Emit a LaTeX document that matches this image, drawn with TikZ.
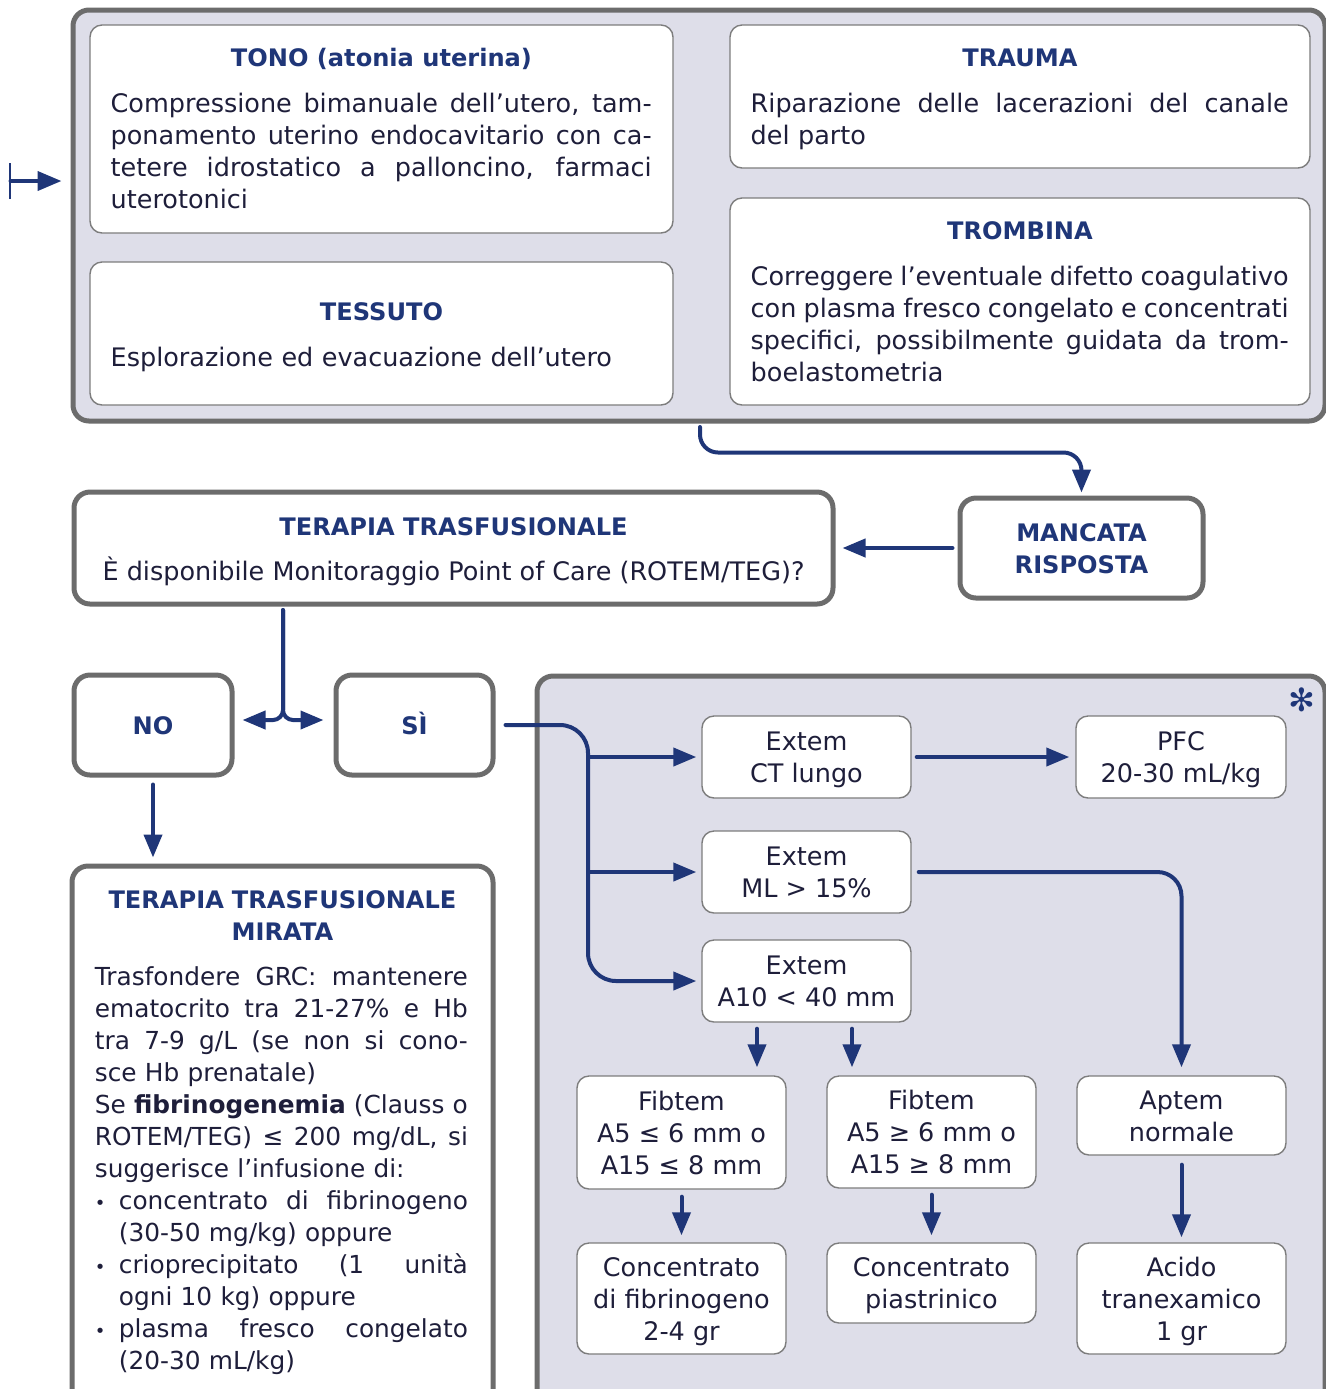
\documentclass[tikz,border=0pt]{standalone}
\usepackage{fontspec}
\setmainfont{DejaVu Sans}
\usetikzlibrary{arrows.meta,positioning,calc}

\definecolor{bluscuro}{RGB}{31,54,120}
\definecolor{testo}{RGB}{30,30,58}
\definecolor{cornice}{RGB}{108,108,108}
\definecolor{lavanda}{RGB}{222,222,233}
\definecolor{bordino}{RGB}{125,125,125}

\newcommand{\corpo}{\fontsize{12.75}{16}\selectfont}
\newcommand{\corpino}{\fontsize{12.4}{16}\selectfont}
\newcommand{\testata}{\fontsize{12.05}{16}\selectfont\bfseries}
% riga giustificata, riga con punto elenco, riga rientrata
\newlength{\riga}
\newcommand{\spazi}{\spaceskip=0.318em plus 0.8em minus 0.11em\relax}
\newcommand{\jline}[1]{\leavevmode\hbox to \riga{\spazi #1}\\}
\newcommand{\bline}[1]{\leavevmode\hbox to 12pt{\small\textbullet\hss}\hbox to \dimexpr\riga-12pt\relax{\spazi #1}\\}
\newcommand{\rientro}{\hspace*{12pt}}
% puntelli invisibili: prima e ultima riga dei riquadri centrati
\newcommand{\su}{\rule{0pt}{13pt}}
\newcommand{\giu}{\rule[-3.5pt]{0pt}{3.5pt}}

\begin{document}
\begin{tikzpicture}[
    x=0.5pt, y=-0.5pt,
    font=\corpo, text=testo,
    % stili globali
    panel/.style={draw=cornice, line width=2.5pt, fill=lavanda, rounded corners=8pt, inner sep=0pt},
    riquadro/.style={draw=cornice, line width=2.5pt, fill=white, rounded corners=8pt, inner sep=0pt, align=center},
    scheda/.style={draw=bordino, line width=0.7pt, fill=white, rounded corners=6pt, inner sep=0pt, align=center},
    titolo/.style={font=\testata, text=bluscuro, anchor=base, inner sep=0pt},
    corpotesto/.style={anchor=base west, inner sep=0pt},
    % frecce blu con punta triangolare
    flusso/.style={draw=bluscuro, line width=2pt, line cap=round, -{Triangle[length=11.5pt,width=9pt]}}
]
    \useasboundingbox (0,0) rectangle (1326,1389);
    \clip (0,0) rectangle (1326,1389);

    % --- 1. Pannello superiore (le 4 T) ---
    \node[panel, minimum width=626pt, minimum height=205.5pt] (sopra) at (699,215.5) {};

    \node[scheda, minimum width=291.5pt, minimum height=104pt] (tono) at (381.5,129) {};
    \node[titolo] (tit-tono) at ($(tono.north)+(0,42)$) {TONO (atonia uterina)};
    \node[corpotesto, text width=270.5pt] (txt-tono) at ($(tono.north west)+(21,88)$)
        {\setlength{\riga}{270.5pt}\jline{Compressione bimanuale dell’utero, tam-}\jline{ponamento uterino endocavitario con ca-}\jline{tetere idrostatico a palloncino, farmaci}uterotonici};

    \node[scheda, minimum width=291.5pt, minimum height=71.5pt] (tessuto) at (381.5,333.5) {};
    \node[titolo] (tit-tessuto) at ($(tessuto.north)+(0,59)$) {TESSUTO};
    \node[corpotesto, text width=270.5pt] (txt-tessuto) at ($(tessuto.north west)+(21,105)$)
        {Esplorazione ed evacuazione dell’utero};

    \node[scheda, minimum width=290pt, minimum height=71.5pt] (trauma) at (1020,96.5) {};
    \node[titolo] (tit-trauma) at ($(trauma.north)+(0,42)$) {TRAUMA};
    \node[corpotesto, text width=269pt] (txt-trauma) at ($(trauma.north west)+(21,88)$)
        {\setlength{\riga}{269pt}\jline{Riparazione delle lacerazioni del canale}del parto};

    \node[scheda, minimum width=290pt, minimum height=103.5pt] (trombina) at (1020,301.5) {};
    \node[titolo] (tit-trombina) at ($(trombina.north)+(0,42)$) {TROMBINA};
    \node[corpotesto, text width=269pt] (txt-trombina) at ($(trombina.north west)+(21,88)$)
        {\setlength{\riga}{269pt}\jline{Correggere l’eventuale difetto coagulativo}\jline{con plasma fresco congelato e concentrati}\jline{specifici, possibilmente guidata da trom-}boelastometria};

    % freccia d'ingresso a sinistra
    \coordinate (ingresso) at (9,181);
    \draw[flusso, {Bar[width=18pt,line width=1pt]}-{Triangle[length=12pt,width=9.5pt]}, shorten >=4.5pt]
        (ingresso) -- (ingresso -| sopra.west);

    % --- 2. Mancata risposta e terapia trasfusionale ---
    \node[riquadro, minimum width=121.5pt, minimum height=50pt, font=\testata, text=bluscuro] (mancata) at (1081.5,548) {\su MANCATA\\RISPOSTA\giu};
    \node[riquadro, minimum width=379.5pt, minimum height=56pt] (terapia) at (453.5,548)
        {\su{\testata\color{bluscuro}TERAPIA TRASFUSIONALE}\\[6.5pt]È disponibile Monitoraggio Point of Care (ROTEM/TEG)?\giu};

    \coordinate (uscita) at (700,427);
    \draw[flusso, rounded corners=9pt, shorten >=1.5pt] (uscita) |- ($(mancata.north)+(0,-43)$) -- (mancata.north);
    \draw[flusso, shorten <=2.5pt, shorten >=3.5pt] (mancata.west) -- (terapia.east);

    % --- 3. NO / SI ---
    \node[riquadro, minimum width=79pt, minimum height=50pt, font=\testata, text=bluscuro] (no) at (153,725) {\su NO\giu};
    \node[riquadro, minimum width=78.5pt, minimum height=50pt, font=\testata, text=bluscuro] (si) at (414.5,725) {\su SÌ\giu};

    \coordinate (bivio) at (283,610);
    \draw[flusso, rounded corners=5pt, shorten >=4pt] (bivio) |- ($(no.east)+(0,-5)$);
    \draw[flusso, rounded corners=5pt, shorten >=5pt] (bivio) |- ($(si.west)+(0,-5)$);

    % --- 4. Ramo NO: terapia mirata ---
    \node[riquadro, minimum width=210.5pt, minimum height=277pt] (mirata) at (282.5,1143) {};
    \node[titolo, text width=200pt, align=center] (tit-mirata) at ($(mirata.north)+(0,45)$) {TERAPIA TRASFUSIONALE\\MIRATA};
    \node[corpotesto, text width=186.5pt, font=\corpino] (txt-mirata) at ($(mirata.north west)+(25,122)$)
        {\setlength{\riga}{186.5pt}%
         \jline{Trasfondere GRC: mantenere}\jline{ematocrito tra 21-27\% e Hb}\jline{tra 7-9 g/L (se non si cono-}sce Hb prenatale)\\
         \jline{Se \textbf{fibrinogenemia} (Clauss o}\jline{ROTEM/TEG) ≤ 200 mg/dL, si}suggerisce l’infusione di:\\
         \bline{concentrato di fibrinogeno}\rientro(30-50 mg/kg) oppure\\
         \bline{crioprecipitato (1 unità}\rientro ogni 10 kg) oppure\\
         \bline{plasma fresco congelato}\rientro(20-30 mL/kg)};
    \draw[flusso, shorten <=3.5pt, shorten >=3pt] (no.south) -- (mirata.north -| no.south);

    % --- 5. Ramo SI: pannello ROTEM ---
    \node[panel, minimum width=394pt, minimum height=372pt] (rotem) at (931,1048) {};
    \node[text=bluscuro, font=\fontsize{16}{16}\selectfont] (asterisco) at (1302,700) {✻};

    \node[scheda, minimum width=104.5pt, minimum height=41pt] (ext1) at (806.5,757) {\su Extem\\CT lungo\giu};
    \node[scheda, minimum width=104.5pt, minimum height=41pt] (ext2) at (806.5,872) {\su Extem\\ML > 15\%\giu};
    \node[scheda, minimum width=104.5pt, minimum height=41pt] (ext3) at (806.5,981) {\su Extem\\A10 < 40 mm\giu};
    \node[scheda, minimum width=105pt, minimum height=41pt] (pfc) at (1181,757) {\su PFC\\20-30 mL/kg\giu};

    \node[scheda, minimum width=104.5pt, minimum height=56.5pt] (fib1) at (681.5,1132.5) {\su Fibtem\\A5 ≤ 6 mm o\\A15 ≤ 8 mm\giu};
    \node[scheda, minimum width=104.5pt, minimum height=56pt] (fib2) at (931.5,1132) {\su Fibtem\\A5 ≥ 6 mm o\\A15 ≥ 8 mm\giu};
    \node[scheda, minimum width=104.5pt, minimum height=39.5pt] (aptem) at (1181.5,1115.5) {\su Aptem\\normale\giu};

    \node[scheda, minimum width=104.5pt, minimum height=55.5pt] (conc1) at (681.5,1298.5) {\su Concentrato\\di fibrinogeno\\2-4 gr\giu};
    \node[scheda, minimum width=104.5pt, minimum height=40pt] (conc2) at (931.5,1283) {\su Concentrato\\piastrinico\giu};
    \node[scheda, minimum width=104.5pt, minimum height=55.5pt] (acido) at (1181.5,1298.5) {\su Acido\\tranexamico\\1 gr\giu};

    % tronco verticale e diramazioni
    \coordinate (tronco) at (588,725);
    \draw[flusso, rounded corners=14pt, shorten >=2.5pt] ($(si.east)+(10,0)$) -| (tronco |- ext3.west) -- (ext3.west);
    \draw[flusso, shorten >=2.5pt] (tronco |- ext1.west) -- (ext1.west);
    \draw[flusso, shorten >=2.5pt] (tronco |- ext2.west) -- (ext2.west);

    \draw[flusso, shorten <=2.5pt, shorten >=3pt] (ext1.east) -- (pfc.west);
    \draw[flusso, rounded corners=12pt, shorten <=3.5pt, shorten >=4pt] (ext2.east) -| (aptem.north);

    \coordinate (discesa1) at ($(ext3.south)+(-49.5,0)$);
    \coordinate (discesa2) at ($(ext3.south)+(45.5,0)$);
    \draw[flusso, shorten <=3pt, shorten >=4pt] (discesa1) -- (discesa1 |- fib1.north);
    \draw[flusso, shorten <=3pt, shorten >=4pt] (discesa2) -- (discesa2 |- fib2.north);

    \draw[flusso, shorten <=3.5pt, shorten >=3.5pt] (fib1.south) -- (conc1.north);
    \draw[flusso, shorten <=3pt, shorten >=3.5pt] (fib2.south) -- (conc2.north);
    \draw[flusso, shorten <=4.5pt, shorten >=2.5pt] (aptem.south) -- (acido.north);

\end{tikzpicture}
\end{document}
